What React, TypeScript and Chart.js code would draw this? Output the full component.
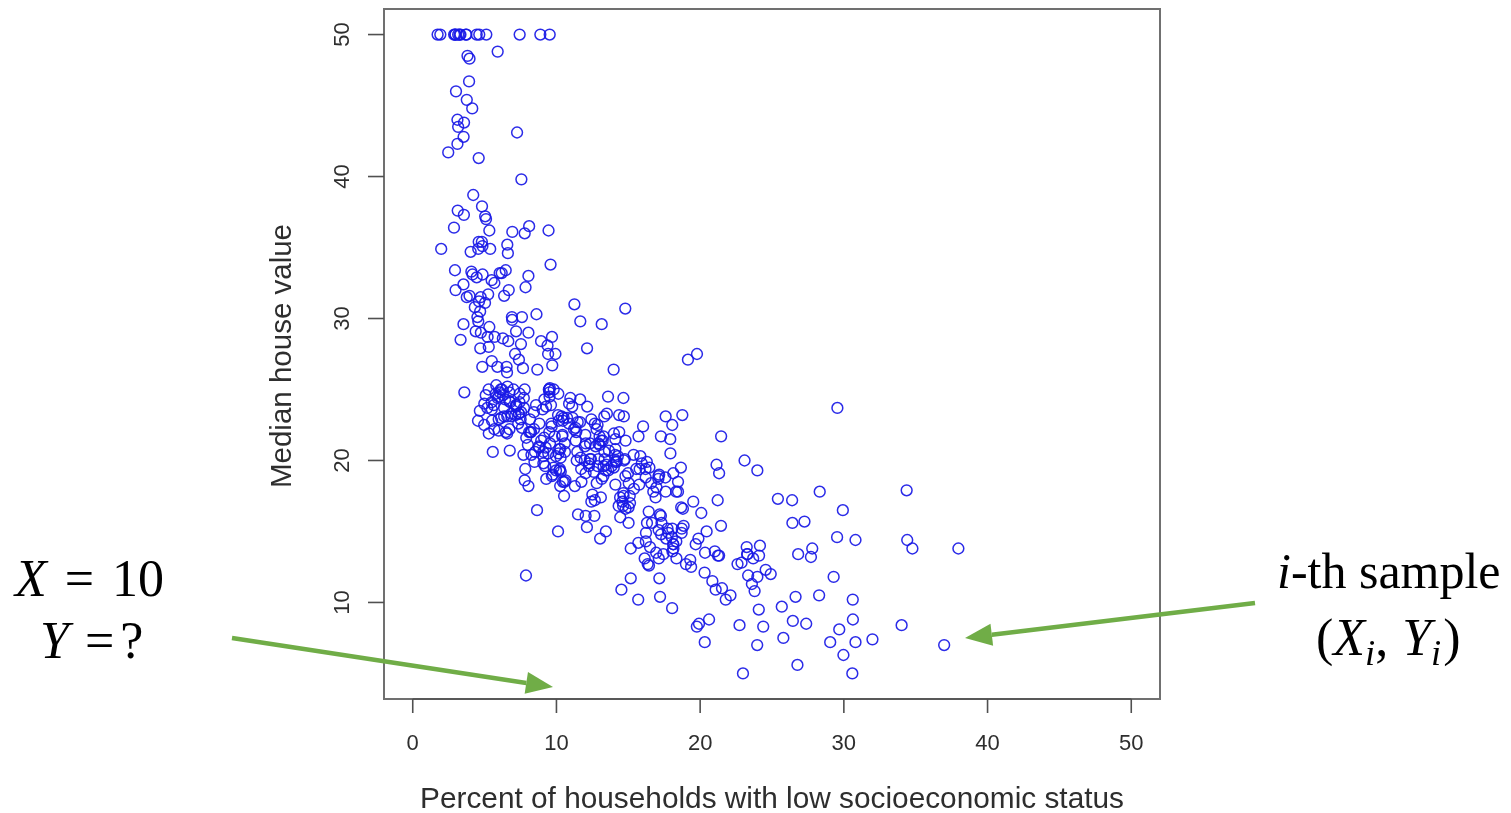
import React, { useEffect, useRef } from "react";
import { Chart, registerables } from "chart.js";
Chart.register(...registerables);

// Percent of households with low socioeconomic status (x)
const lstat = [4.98,9.14,4.03,2.94,5.33,5.21,12.43,19.15,29.93,17.10,20.45,13.27,15.71,8.26,10.26,8.47,6.58,14.67,11.69,11.28,21.02,13.83,18.72,19.88,16.30,16.51,14.81,17.28,12.80,11.98,22.60,13.04,27.71,18.35,20.34,9.68,11.41,8.77,10.13,4.32,1.98,4.84,5.81,7.44,9.55,10.21,14.15,18.80,30.81,16.20,13.45,9.43,5.28,8.43,14.80,4.81,5.77,3.95,6.86,9.22,13.15,14.44,6.73,9.50,8.05,4.67,10.24,8.10,13.09,8.79,6.72,9.88,5.52,7.54,6.78,8.94,11.97,10.27,12.34,9.10,5.29,7.22,6.72,7.51,9.62,6.53,12.86,8.44,5.50,5.70,8.81,8.20,8.16,6.21,10.59,6.65,11.34,4.21,3.57,6.19,9.42,7.67,10.63,13.44,12.33,16.47,18.66,14.09,12.27,15.55,13.00,10.16,16.21,17.09,10.45,15.76,12.04,10.30,15.37,13.61,14.37,14.27,17.93,25.41,17.58,14.81,27.26,17.19,15.39,18.34,12.60,12.26,11.12,15.03,17.31,16.96,16.90,14.59,21.32,18.46,24.16,34.41,26.82,26.42,29.29,27.80,16.65,29.53,28.32,21.45,14.10,13.28,12.12,15.79,15.12,15.02,16.14,4.59,6.43,7.39,5.50,1.73,1.92,3.32,11.64,9.81,3.70,12.14,11.10,11.32,14.43,12.03,14.69,9.04,9.64,5.33,10.11,6.29,6.92,5.04,7.56,9.45,4.82,5.68,13.98,13.15,4.45,6.68,4.56,5.39,5.10,4.69,2.87,5.03,4.38,2.97,4.08,8.61,6.62,4.56,4.45,7.43,3.11,3.81,2.88,10.87,10.97,18.06,14.66,23.09,17.27,23.98,16.03,9.38,29.55,9.47,13.51,9.69,17.92,10.50,9.71,21.46,9.93,7.60,4.14,4.63,3.13,6.36,3.92,3.76,11.65,5.25,2.47,3.95,8.05,10.88,9.54,4.73,6.36,7.37,11.38,12.40,11.22,5.19,12.50,18.46,9.16,10.15,9.52,6.56,5.90,3.59,3.53,3.54,6.57,9.25,3.11,5.12,7.79,6.90,9.59,7.26,5.91,11.25,8.10,10.45,14.79,7.44,3.16,13.65,13.00,6.59,7.73,6.58,3.53,2.98,6.05,4.16,7.19,4.85,3.76,4.59,3.01,3.16,7.85,8.23,12.93,7.14,7.60,9.51,3.33,3.56,4.70,8.58,10.40,6.27,7.39,15.84,4.97,4.74,6.07,9.50,8.67,4.86,6.93,8.93,6.47,7.53,4.54,9.97,12.64,5.98,11.72,7.90,9.28,11.50,18.33,15.94,10.36,12.73,7.20,6.87,7.70,11.74,6.12,5.08,6.15,12.79,9.97,7.34,9.09,12.43,7.83,5.68,6.75,8.01,9.80,10.56,8.51,9.74,9.29,5.49,8.65,7.18,4.61,10.53,12.67,6.36,5.99,5.89,5.98,5.49,7.79,4.50,8.05,5.57,17.60,13.27,11.48,12.67,7.79,14.19,10.19,14.64,5.29,7.12,14.00,13.33,3.26,3.73,2.96,9.53,8.88,34.77,37.97,13.44,23.24,21.24,23.69,21.78,17.21,21.08,23.60,24.56,30.63,30.81,28.28,31.99,30.62,20.85,17.11,18.76,25.68,15.17,16.35,17.12,19.37,19.92,30.59,29.97,26.77,20.32,20.31,19.77,27.38,22.98,23.34,12.13,26.40,19.78,10.11,21.22,34.37,20.08,36.98,29.05,25.79,26.64,20.62,22.74,15.02,15.70,14.10,23.29,17.16,24.39,15.69,14.52,21.52,24.08,17.64,19.69,12.03,16.22,15.17,23.27,18.05,26.45,34.02,22.88,22.11,19.52,16.59,18.85,23.79,23.98,17.79,16.44,18.13,19.31,17.44,17.73,17.27,16.74,18.71,18.13,19.01,16.94,16.23,14.70,16.42,14.65,13.99,10.29,13.22,14.13,17.15,21.32,18.13,14.76,16.29,12.87,14.36,11.66,18.14,24.10,18.68,24.91,18.03,13.11,10.74,7.74,7.01,10.42,13.34,10.58,14.98,11.45,18.06,23.97,29.68,18.07,13.35,12.01,13.59,17.60,21.14,14.10,12.92,15.10,14.33,9.67,9.08,5.64,6.48,7.88];

// Median house value (y)
const medv = [24.0,21.6,34.7,33.4,36.2,28.7,22.9,27.1,16.5,18.9,15.0,18.9,21.7,20.4,18.2,19.9,23.1,17.5,20.2,18.2,13.6,19.6,15.2,14.5,15.6,13.9,16.6,14.8,18.4,21.0,12.7,14.5,13.2,13.1,13.5,18.9,20.0,21.0,24.7,30.8,34.9,26.6,25.3,24.7,21.2,19.3,20.0,16.6,14.4,19.4,19.7,20.5,25.0,23.4,18.9,35.4,24.7,31.6,23.3,19.6,18.7,16.0,22.2,25.0,33.0,23.5,19.4,22.0,17.4,20.9,24.2,21.7,22.8,23.4,24.1,21.4,20.0,20.8,21.2,20.3,28.0,23.9,24.8,22.9,23.9,26.6,22.5,22.2,23.6,28.7,22.6,22.0,22.9,25.0,20.6,28.4,21.4,38.7,43.8,33.2,27.5,26.5,18.6,19.3,20.1,19.5,19.5,20.4,19.8,19.4,21.7,22.8,18.8,18.7,18.5,18.3,21.2,19.2,20.4,19.3,22.0,20.3,20.5,17.3,18.8,21.4,15.7,16.2,18.0,14.3,19.2,19.6,23.0,18.4,15.6,18.1,17.4,17.1,13.3,17.8,14.0,14.4,13.4,15.6,11.8,13.8,15.6,14.6,17.8,15.4,21.5,19.6,15.3,19.4,17.0,15.6,13.1,41.3,24.3,23.3,27.0,50.0,50.0,50.0,22.7,25.0,50.0,23.8,23.8,22.3,17.4,19.1,23.1,23.6,22.6,29.4,23.2,24.6,29.9,37.2,39.8,36.2,37.9,32.5,26.4,29.6,50.0,32.0,29.8,34.9,37.0,30.5,36.4,31.1,29.1,50.0,33.3,30.3,34.6,34.9,32.9,24.1,42.3,48.5,50.0,22.6,24.4,22.5,24.4,20.0,21.7,19.3,22.4,28.1,23.7,25.0,23.3,28.7,21.5,23.0,26.7,21.7,27.5,30.1,44.8,50.0,37.6,31.6,46.7,31.5,24.3,31.7,41.7,48.3,29.0,24.0,25.1,31.5,23.7,23.3,22.0,20.1,22.2,23.7,17.6,18.5,24.3,20.5,24.5,26.2,24.4,24.8,29.6,42.8,21.9,20.9,44.0,50.0,36.0,30.1,33.8,43.1,48.8,31.0,36.5,22.8,30.7,50.0,43.5,20.7,21.1,25.2,24.4,35.2,32.4,32.0,33.2,33.1,29.1,35.1,45.4,35.4,46.0,50.0,32.2,22.0,20.1,23.2,22.3,24.8,28.5,37.3,27.9,23.9,21.7,28.6,27.1,20.3,22.5,29.0,24.8,22.0,26.4,33.1,36.1,28.4,33.4,28.2,22.8,20.3,16.1,22.1,19.4,21.6,23.8,16.2,17.8,19.8,23.1,21.0,23.8,23.1,20.4,18.5,25.0,24.6,23.0,22.2,19.3,22.6,19.8,17.1,19.4,22.2,20.7,21.1,19.5,18.5,20.6,19.0,18.7,32.7,16.5,23.9,31.2,17.5,17.2,23.1,24.5,26.6,22.9,24.1,18.6,30.1,18.2,20.6,17.8,21.7,22.7,22.6,25.0,19.9,20.8,16.8,21.9,27.5,21.9,23.1,50.0,50.0,50.0,50.0,50.0,13.8,13.8,15.0,13.9,13.3,13.1,10.2,10.4,10.9,11.3,12.3,8.8,7.2,10.5,7.4,10.2,11.5,15.1,23.2,9.7,13.8,12.7,13.1,12.5,8.5,5.0,6.3,5.6,7.2,12.1,8.3,8.5,5.0,11.9,27.9,17.2,27.5,15.0,17.2,17.9,16.3,7.0,7.2,7.5,10.4,8.8,8.4,16.7,14.2,20.8,13.4,11.7,8.3,10.2,10.9,11.0,9.5,14.5,14.1,16.1,14.3,11.7,13.4,9.6,8.7,8.4,12.8,10.5,17.1,18.4,15.4,10.8,11.8,14.9,12.6,14.1,13.0,13.4,15.2,16.1,17.8,14.9,14.1,12.7,13.5,14.9,20.0,16.4,17.7,19.5,20.2,21.4,19.9,19.0,19.1,19.1,20.1,19.9,19.6,23.2,29.8,13.8,13.3,16.7,12.0,14.6,21.4,23.0,23.7,25.0,21.8,20.6,21.2,19.1,20.6,15.2,7.0,8.1,13.6,20.1,21.8,24.5,23.1,19.7,18.3,21.2,17.5,16.8,22.4,20.6,23.9,22.0,11.9];

const xTicks = [0, 10, 20, 30, 40, 50];
const yTicks = [10, 20, 30, 40, 50];
const xTitle = "Percent of households with low socioeconomic status";
const yTitle = "Median house value";

type Run = { t: string; i?: boolean; sub?: boolean };
const leftNoteLine1: Run[] = [{ t: "X", i: true }, { t: "=" }, { t: "10" }];
const leftNoteLine2: Run[] = [{ t: "Y", i: true }, { t: "=" }, { t: "?" }];
const rightNoteLine1: Run[] = [{ t: "i", i: true }, { t: "-th sample" }];
const rightNoteLine2: Run[] = [
  { t: "(" }, { t: "X", i: true }, { t: "i", i: true, sub: true }, { t: "," },
  { t: "Y", i: true }, { t: "i", i: true, sub: true }, { t: ")" },
];

const W = 1511;
const H = 813;
const SANS = "'Liberation Sans', Arial, Helvetica, sans-serif";
const SERIF = "'Liberation Serif', 'Times New Roman', serif";

function drawRuns(ctx: CanvasRenderingContext2D, runs: Run[], x: number, y: number, size: number, gaps: number[] = []) {
  let cx = x;
  runs.forEach((r, k) => {
    cx += gaps[k] || 0;
    const fs = r.sub ? size * 0.7 : size;
    ctx.font = `${r.i ? "italic " : ""}${fs}px ${SERIF}`;
    ctx.fillText(r.t, cx, r.sub ? y + size * 0.2 : y);
    cx += ctx.measureText(r.t).width;
  });
}

function arrow(ctx: CanvasRenderingContext2D, x0: number, y0: number, x1: number, y1: number) {
  const ang = Math.atan2(y1 - y0, x1 - x0);
  const hl = 27, hw = 11;
  const bx = x1 - hl * Math.cos(ang), by = y1 - hl * Math.sin(ang);
  ctx.strokeStyle = "#70AD47";
  ctx.fillStyle = "#70AD47";
  ctx.lineWidth = 4.5;
  ctx.beginPath();
  ctx.moveTo(x0, y0);
  ctx.lineTo(bx, by);
  ctx.stroke();
  ctx.beginPath();
  ctx.moveTo(x1, y1);
  ctx.lineTo(bx + hw * Math.sin(ang), by - hw * Math.cos(ang));
  ctx.lineTo(bx - hw * Math.sin(ang), by + hw * Math.cos(ang));
  ctx.closePath();
  ctx.fill();
}

const rStylePlugin = {
  id: "rStyle",
  afterDatasetsDraw(chart: any) {
    const { ctx, chartArea: a, scales } = chart;
    const xs = scales.x, ys = scales.y;
    ctx.save();
    // plot box
    ctx.strokeStyle = "#707070";
    ctx.lineWidth = 2;
    ctx.strokeRect(a.left, a.top, a.right - a.left, a.bottom - a.top);

    // axes
    ctx.strokeStyle = "#505050";
    ctx.lineWidth = 1.6;
    ctx.fillStyle = "#2e2e2e";
    ctx.font = `22px ${SANS}`;
    ctx.textAlign = "center";
    ctx.textBaseline = "middle";
    const x0 = xs.getPixelForValue(xTicks[0]);
    const x1 = xs.getPixelForValue(xTicks[xTicks.length - 1]);
    ctx.beginPath();
    ctx.moveTo(x0, a.bottom);
    ctx.lineTo(x1, a.bottom);
    ctx.stroke();
    xTicks.forEach((v) => {
      const px = xs.getPixelForValue(v);
      ctx.beginPath();
      ctx.moveTo(px, a.bottom);
      ctx.lineTo(px, a.bottom + 14);
      ctx.stroke();
      ctx.fillText(String(v), px, a.bottom + 45);
    });
    yTicks.forEach((v) => {
      const py = ys.getPixelForValue(v);
      ctx.beginPath();
      ctx.moveTo(a.left - 16, py);
      ctx.lineTo(a.left, py);
      ctx.stroke();
      ctx.save();
      ctx.translate(a.left - 41, py);
      ctx.rotate(-Math.PI / 2);
      ctx.fillText(String(v), 0, 0);
      ctx.restore();
    });

    // titles
    ctx.font = `29.8px ${SANS}`;
    ctx.fillText(xTitle, (a.left + a.right) / 2, a.bottom + 101);
    ctx.font = `29.5px ${SANS}`;
    ctx.save();
    ctx.translate(a.left - 101, (a.top + a.bottom) / 2 + 2);
    ctx.rotate(-Math.PI / 2);
    ctx.fillText(yTitle, 0, 0);
    ctx.restore();
    ctx.restore();
  },
  afterDraw(chart: any) {
    const { ctx } = chart;
    ctx.save();
    ctx.fillStyle = "#000";
    ctx.textAlign = "left";
    ctx.textBaseline = "alphabetic";
    drawRuns(ctx, leftNoteLine1, 15, 596, 52, [0, 18, 18]);
    drawRuns(ctx, leftNoteLine2, 40, 658, 52, [0, 16, 6]);
    drawRuns(ctx, rightNoteLine1, 1277, 588, 50);
    drawRuns(ctx, rightNoteLine2, 1316, 655, 52, [0, 0, 0, 0, 14, 0, 2]);
    arrow(ctx, 232, 638, 553, 687);
    arrow(ctx, 1255, 603, 965, 638);
    ctx.restore();
  },
};

export default function App() {
  const ref = useRef<HTMLCanvasElement | null>(null);
  useEffect(() => {
    if (!ref.current) return;
    const points = lstat.map((v, k) => ({ x: v, y: medv[k] }));
    const chart = new Chart(ref.current, {
      type: "scatter",
      data: {
        datasets: [
          {
            data: points,
            pointStyle: "circle",
            pointRadius: 5.4,
            pointBorderWidth: 1.5,
            pointBorderColor: "rgba(25,25,230,0.92)",
            pointBackgroundColor: "rgba(0,0,0,0)",
            clip: false as any,
          },
        ],
      },
      options: {
        responsive: false,
        animation: false,
        events: [],
        layout: { padding: { left: 384, right: W - 1160, top: 9, bottom: H - 699 } },
        plugins: { legend: { display: false }, tooltip: { enabled: false } },
        scales: {
          x: { type: "linear", min: -2, max: 52, display: false },
          y: { type: "linear", min: 3.2, max: 51.8, display: false },
        },
      },
      plugins: [rStylePlugin],
    });
    return () => chart.destroy();
  }, []);
  return (
    <canvas
      ref={ref}
      width={W}
      height={H}
      style={{ position: "absolute", left: 0, top: 0, width: W, height: H, background: "#fff" }}
    />
  );
}
